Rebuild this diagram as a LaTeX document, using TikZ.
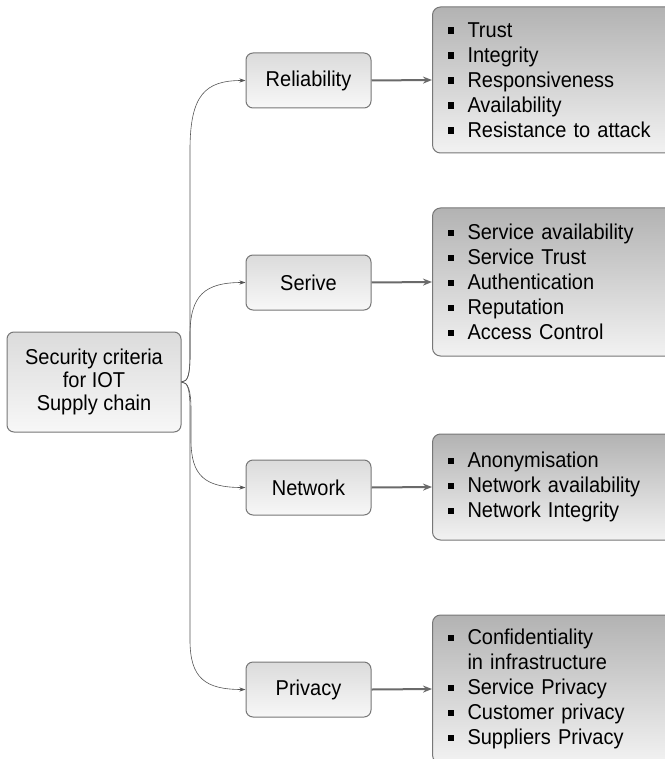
\documentclass[tikz,border=0pt]{standalone}
\usepackage{fontspec}
\setmainfont{Liberation Sans}[FakeStretch=0.93]
\usetikzlibrary{arrows.meta}
\definecolor{edgegray}{HTML}{777777}
\definecolor{linegray}{HTML}{555555}
\definecolor{arrgray}{HTML}{6A6A6A}
\newcommand{\bitem}[1]{\makebox[20pt][l]{\raisebox{3.5pt}{\rule{6.5pt}{6.5pt}}}#1}
\newcommand{\bcont}[1]{\hspace*{20pt}#1}
\tikzset{
  catbox/.style={draw=edgegray, line width=1pt, rounded corners=7pt,
    top color=black!14, bottom color=black!3,
    minimum width=125pt, minimum height=55pt, inner sep=0pt,
    font=\fontsize{21.5}{23}\selectfont},
  rootbox/.style={catbox, minimum width=174pt, minimum height=100pt, align=center},
  listbox/.style={draw=edgegray, line width=1pt, rounded corners=8pt,
    top color=black!30, bottom color=black!5,
    anchor=west, text width=220pt, inner xsep=15pt, inner ysep=0pt, align=left,
    font=\fontsize{21.5}{25}\selectfont},
  conn/.style={draw=linegray, line width=0.6pt, -{Stealth[length=6pt,width=4pt]}},
  bigarr/.style={draw=arrgray, line width=2pt, -{Stealth[length=9pt,width=7pt]}}
}
\begin{document}
\begin{tikzpicture}[x=1pt,y=-1pt]
\useasboundingbox (0,0) rectangle (664,759);
\node[rootbox] (root) at (94,382) {Security criteria\\for IOT\\Supply chain};
\node[catbox] (rel) at (308.5,80.5) {Reliability};
\node[catbox] (ser) at (308.5,282.5) {Serive};
\node[catbox] (net) at (308.5,487.5) {Network};
\node[catbox] (priv) at (308.5,689.5) {Privacy};
\node[listbox, minimum height=146pt] (l1) at (432,80) {\bitem{Trust}\\\bitem{Integrity}\\\bitem{Responsiveness}\\\bitem{Availability}\\\bitem{Resistance to attack}};
\node[listbox, minimum height=148pt] (l2) at (432,282) {\bitem{Service availability}\\\bitem{Service Trust}\\\bitem{Authentication}\\\bitem{Reputation}\\\bitem{Access Control}};
\node[listbox, minimum height=106pt] (l3) at (432,487) {\bitem{Anonymisation}\\\bitem{Network availability}\\\bitem{Network Integrity}};
\node[listbox, minimum height=148pt] (l4) at (432,689) {\bitem{Confidentiality}\\\bcont{in infrastructure}\\\bitem{Service Privacy}\\\bitem{Customer privacy}\\\bitem{Suppliers Privacy}};
\draw[bigarr] (rel.east) -- (l1.west);
\draw[bigarr] (ser.east) -- (l2.west);
\draw[bigarr] (net.east) -- (l3.west);
\draw[bigarr] (priv.east) -- (l4.west);
\draw[conn] (root.east) .. controls (188,382) and (190,374) .. (190,355) -- (190,150) .. controls (190,95) and (205,80.5) .. (rel.west);
\draw[conn] (root.east) .. controls (188,382) and (190,374) .. (190,355) -- (190,335) .. controls (190,295) and (205,282.5) .. (ser.west);
\draw[conn] (root.east) .. controls (188,382) and (191,390) .. (191,410) -- (191,440) .. controls (191,476) and (205,487.5) .. (net.west);
\draw[conn] (root.east) .. controls (188,382) and (190,390) .. (190,410) -- (190,640) .. controls (190,678) and (205,689.5) .. (priv.west);
\end{tikzpicture}
\end{document}
